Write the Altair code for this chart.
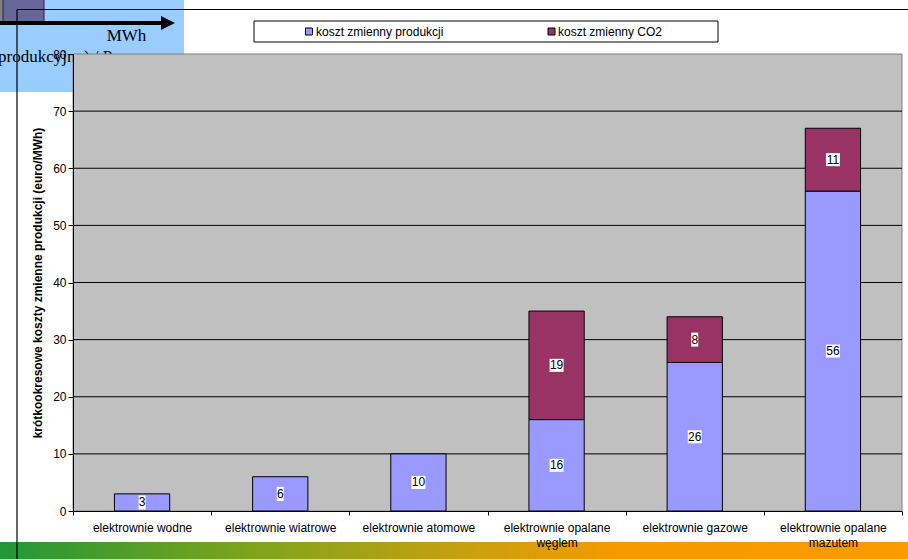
import altair as alt
import pandas as pd

# ---- data ----
categories = [
    "elektrownie wodne",
    "elektrownie wiatrowe",
    "elektrownie atomowe",
    "elektrownie opalane\nwęglem",
    "elektrownie gazowe",
    "elektrownie opalane\nmazutem",
]
koszt_produkcji = [3, 6, 10, 16, 26, 56]
koszt_co2 = [0, 0, 0, 19, 8, 11]
series = ["koszt zmienny produkcji", "koszt zmienny CO2"]
colors = ["#9999FF", "#993366"]
y_ticks = [0, 10, 20, 30, 40, 50, 60, 70, 80]
y_title = "krótkookresowe koszty zmienne produkcji (euro/MWh)"

rows = []
for c, p, e in zip(categories, koszt_produkcji, koszt_co2):
    rows.append({"cat": c, "series": series[0], "value": p, "ord": 0})
    rows.append({"cat": c, "series": series[1], "value": e, "ord": 1})
df = pd.DataFrame(rows)
grid_df = pd.DataFrame({"t": y_ticks[1:-1]})
one = pd.DataFrame({"a": [0]})

FONT = "Liberation Sans"
W, H = 829, 457

x_axis = alt.Axis(
    title=None, labelAngle=0, labelFont=FONT, labelFontSize=12, labelColor="black",
    labelExpr="split(datum.label, '\\n')", labelLineHeight=15, labelPadding=7,
    tickBand="extent", tickSize=4, tickColor="black", domainColor="black",
    labelLimit=200, zindex=1, grid=False,
)
y_axis = alt.Axis(
    title=y_title, values=y_ticks, labelFont=FONT, labelFontSize=12, labelColor="black",
    tickSize=5, tickColor="black", domainColor="black", labelPadding=2, grid=False,
    titleFont=FONT, titleFontSize=12, titleFontWeight="bold", titleColor="black",
    titleAngle=-90, titleX=-36, titleY=H / 2, titleAlign="center", titleBaseline="middle",
    zindex=1,
)
x_scale = alt.Scale(domain=categories, paddingInner=0, paddingOuter=0)
y_scale = alt.Scale(domain=[0, 80], nice=False)


def X(field="cat:N"):
    return alt.X(field, sort=categories, scale=x_scale, axis=x_axis)


def Y(field):
    return alt.Y(field, scale=y_scale, axis=y_axis)


color_enc = alt.Color("series:N", scale=alt.Scale(domain=series, range=colors), legend=None)

# ---- decorations of the slide ----
blue_box = alt.Chart(one).mark_rect(fill="#99CCFF").encode(
    x=alt.value(-73), x2=alt.value(111), y=alt.value(-54), y2=alt.value(38))
gray_strip = alt.Chart(one).mark_rect(fill="#808080").encode(
    x=alt.value(-73), x2=alt.value(-70), y=alt.value(-54), y2=alt.value(-32))
purple_sq = alt.Chart(one).mark_rect(fill="#666699", stroke="#222244", strokeWidth=1).encode(
    x=alt.value(-70), x2=alt.value(-29), y=alt.value(-56), y2=alt.value(-32))
arrow_line = alt.Chart(one).mark_rule(color="black", strokeWidth=4).encode(
    x=alt.value(-73), x2=alt.value(90), y=alt.value(-31))
arrow_head = alt.Chart(one).mark_point(
    shape="M-1,-1L1,0L-1,1Z", filled=True, fill="black", opacity=1, size=196).encode(
    x=alt.value(95), y=alt.value(-31))
mwh = alt.Chart(one).mark_text(
    font="Liberation Serif", fontSize=17, align="center", baseline="alphabetic", color="black").encode(
    x=alt.value(53.5), y=alt.value(-13), text=alt.value("MWh"))
hidden_txt = alt.Chart(one).mark_text(
    font="Liberation Serif", fontSize=17, align="left", baseline="alphabetic", color="black").encode(
    x=alt.value(-75), y=alt.value(8), text=alt.value("produkcyjny) / Praca"))

plot_bg = alt.Chart(one).mark_rect(fill="#C0C0C0", stroke="#808080", strokeWidth=1).encode(
    x=alt.value(0), x2=alt.value(W), y=alt.value(0), y2=alt.value(H))

grid = alt.Chart(grid_df).mark_rule(color="black", strokeWidth=1).encode(
    y=Y("t:Q"), x=alt.value(0), x2=alt.value(W))

gradient = alt.Chart(one).mark_rect(
    fill=alt.LinearGradient(
        gradient="linear", x1=0, x2=1, y1=0, y2=0,
        stops=[
            alt.GradientStop(offset=0, color="#229638"),
            alt.GradientStop(offset=0.28, color="#7FA41C"),
            alt.GradientStop(offset=0.5, color="#C4A010"),
            alt.GradientStop(offset=0.68, color="#F59A00"),
            alt.GradientStop(offset=1, color="#FA9A00"),
        ]),
).encode(x=alt.value(-73), x2=alt.value(835), y=alt.value(488), y2=alt.value(505))

# ---- bars ----
bars = alt.Chart(df).transform_filter("datum.value > 0").mark_bar(
    stroke="black", strokeWidth=1, width=alt.RelativeBandSize(0.4)).encode(
    x=X(), y=alt.Y("value:Q", stack="zero", scale=y_scale, axis=y_axis),
    color=color_enc, order=alt.Order("ord:Q"))

stacked = alt.Chart(df).transform_filter("datum.value > 0").transform_stack(
    stack="value", groupby=["cat"], as_=["y0", "y1"], sort=[alt.SortField("ord")]
).transform_calculate(mid="(datum.y0 + datum.y1) / 2")

box1 = stacked.transform_filter("datum.value < 10").mark_point(
    shape="M-0.5,-1L0.5,-1L0.5,1L-0.5,1Z", filled=True, fill="white", opacity=1, size=196).encode(
    x=X(), y=Y("mid:Q"))
box2 = stacked.transform_filter("datum.value >= 10").mark_point(
    shape="M-1,-0.93L1,-0.93L1,0.93L-1,0.93Z", filled=True, fill="white", opacity=1, size=196).encode(
    x=X(), y=Y("mid:Q"))
labels = stacked.mark_text(font=FONT, fontSize=12, color="black", baseline="middle").encode(
    x=X(), y=Y("mid:Q"), text="value:Q")

# ---- legend ----
legend_box = alt.Chart(one).mark_rect(fill="white", stroke="black", strokeWidth=1).encode(
    x=alt.value(181), x2=alt.value(645), y=alt.value(-33), y2=alt.value(-12))
legend_layers = []
for i, (sx, tx) in enumerate([(236, 243), (478.5, 485)]):
    ldf = pd.DataFrame({"series": [series[i]]})
    legend_layers.append(alt.Chart(ldf).mark_point(
        shape="square", filled=True, opacity=1, size=49, stroke="black", strokeWidth=1).encode(
        x=alt.value(sx), y=alt.value(-22.5), fill=alt.Fill("series:N", scale=alt.Scale(domain=series, range=colors), legend=None)))
    legend_layers.append(alt.Chart(ldf).mark_text(
        font=FONT, fontSize=12, align="left", baseline="middle", color="black").encode(
        x=alt.value(tx), y=alt.value(-22.5), text="series:N"))

slide_h = alt.Chart(one).mark_rule(color="black", strokeWidth=1.2).encode(
    x=alt.value(-56), x2=alt.value(835), y=alt.value(-44.5))
slide_v = alt.Chart(one).mark_rule(color="black", strokeWidth=1.2).encode(
    x=alt.value(-56), y=alt.value(-44.5), y2=alt.value(505))

chart = alt.layer(
    blue_box, gray_strip, purple_sq, arrow_line, arrow_head, mwh, hidden_txt,
    plot_bg, grid, gradient, bars, box1, box2, labels, legend_box, *legend_layers,
    slide_h, slide_v,
).properties(
    width=W, height=H,
    autosize=alt.AutoSizeParams(type="none"),
    padding={"left": 73, "top": 54, "right": 6, "bottom": 48},
    background="white",
).configure_view(stroke=None)

chart.save("out.html", embed_options={"renderer": "svg", "actions": False})
